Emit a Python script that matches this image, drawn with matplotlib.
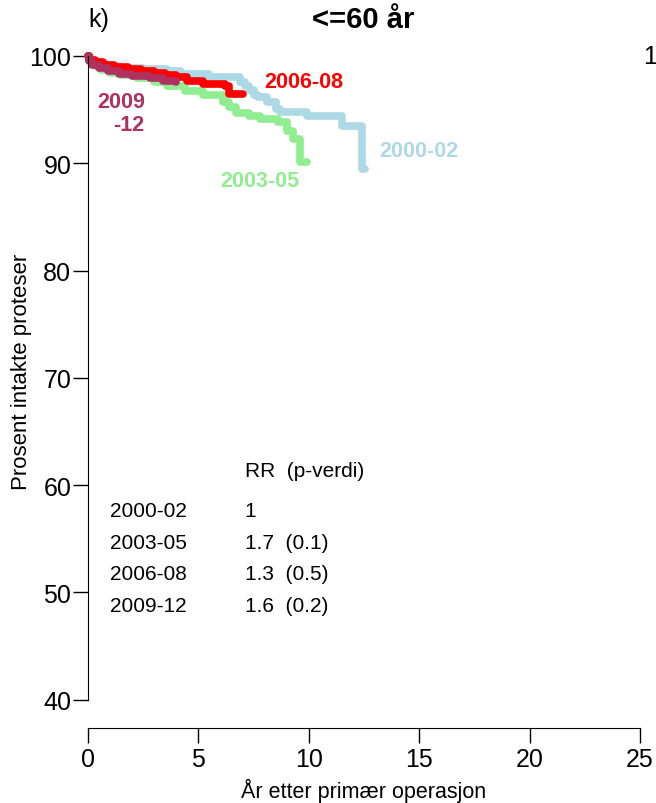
import matplotlib
matplotlib.use("Agg")
import matplotlib.pyplot as plt

plt.rcParams['font.family'] = ['Liberation Sans', 'DejaVu Sans']

# Kaplan-Meier step curves per periode (år, prosent intakte)
t_0002 = [0, 0.1, 0.3, 0.8, 1.5, 2.5, 3.6, 4.2, 5.5, 6.9, 7.1, 7.3, 7.5, 7.7, 8.1, 8.5, 8.7, 9.9, 11.5, 12.4, 12.55]
s_0002 = [100, 99.6, 99.3, 99.1, 98.9, 98.8, 98.6, 98.3, 98.0, 97.6, 97.2, 96.8, 96.4, 96.2, 95.7, 95.1, 94.8, 94.4, 93.5, 89.5, 89.5]

t_0305 = [0, 0.1, 0.3, 0.6, 1.0, 1.5, 2.2, 3.0, 3.6, 4.4, 5.2, 6.1, 6.4, 6.7, 7.3, 7.8, 8.6, 9.0, 9.3, 9.6, 9.9]
s_0305 = [100, 99.5, 99.1, 98.7, 98.4, 98.2, 97.9, 97.6, 97.2, 96.7, 96.4, 95.7, 95.2, 94.7, 94.4, 94.1, 93.8, 93.0, 92.3, 90.1, 90.1]

t_0608 = [0, 0.05, 0.3, 0.7, 1.2, 1.8, 2.4, 3.0, 3.5, 4.0, 4.5, 5.2, 6.2, 6.4, 7.0]
s_0608 = [100, 99.6, 99.4, 99.2, 99.0, 98.8, 98.6, 98.4, 98.2, 98.0, 97.7, 97.4, 97.2, 96.5, 96.5]

t_0912 = [0, 0.05, 0.2, 0.5, 0.9, 1.4, 2.0, 2.8, 3.4, 4.0]
s_0912 = [100, 99.5, 99.2, 98.9, 98.6, 98.3, 98.1, 97.9, 97.7, 97.6]

perioder = ["2000-02", "2003-05", "2006-08", "2009-12"]
rr = ["1", "1.7", "1.3", "1.6"]
pverdi = ["", "(0.1)", "(0.5)", "(0.2)"]

xticks = [0, 5, 10, 15, 20, 25]
yticks = [40, 50, 60, 70, 80, 90, 100]

fig = plt.figure(figsize=(6.56, 8.04), dpi=100)
ax = fig.add_axes([88/656, 1 - 729/804, 552/656, 689/804])
ax.set_xlim(0, 25)
ax.set_ylim(37.37, 101.58)

kurver = [
    (t_0002, s_0002, "lightblue"),
    (t_0305, s_0305, "lightgreen"),
    (t_0608, s_0608, "red"),
    (t_0912, s_0912, "#B03060"),
]
for t, s, farge in kurver:
    ax.plot(t, s, drawstyle="steps-post", color=farge, lw=5.5,
            solid_capstyle="round", solid_joinstyle="round", clip_on=False)

# etiketter ved kurvene
etikett = dict(fontsize=15.5, fontweight="bold", va="center")
ax.text(13.2, 91.15, "2000-02", color="lightblue", **etikett)
ax.text(6.0, 88.35, "2003-05", color="lightgreen", **etikett)
ax.text(8.0, 97.65, "2006-08", color="red", **etikett)
ax.text(2.57, 95.75, "2009", color="#B03060", ha="right", **etikett)
ax.text(2.57, 93.65, "-12", color="#B03060", ha="right", **etikett)

# RR-tabell
ax.text(7.1, 61.35, "RR  (p-verdi)", fontsize=15, va="center")
rad_y = [57.6, 54.7, 51.75, 48.8]
for p, r, pv, y in zip(perioder, rr, pverdi, rad_y):
    ax.text(1.0, y, p, fontsize=15, va="center")
    ax.text(7.1, y, (r + "  " + pv).rstrip(), fontsize=15, va="center")

for side in ["top", "right"]:
    ax.spines[side].set_visible(False)
ax.spines["left"].set_bounds(40, 100)
ax.spines["bottom"].set_bounds(0, 25)
ax.set_xticks(xticks)
ax.set_yticks(yticks)
ax.tick_params(axis="both", length=11, width=1, labelsize=18)
ax.tick_params(axis="x", pad=3)
ax.tick_params(axis="y", pad=1)

ax.set_xlabel("År etter primær operasjon", fontsize=15.5)
ax.set_ylabel("Prosent intakte proteser", fontsize=16)
ax.xaxis.set_label_coords(0.5, -0.072)
ax.yaxis.set_label_coords(-0.102, 0.518)

fig.text(363/656, 1 - 20/804, "<=60 år", fontsize=21, fontweight="bold", ha="center", va="center")
fig.text(99/656, 1 - 20/804, "k)", fontsize=18, ha="center", va="center")
fig.text(650/656, 1 - 57/804, "1", fontsize=18, ha="center", va="center")

fig.savefig("out.png", dpi=100)
